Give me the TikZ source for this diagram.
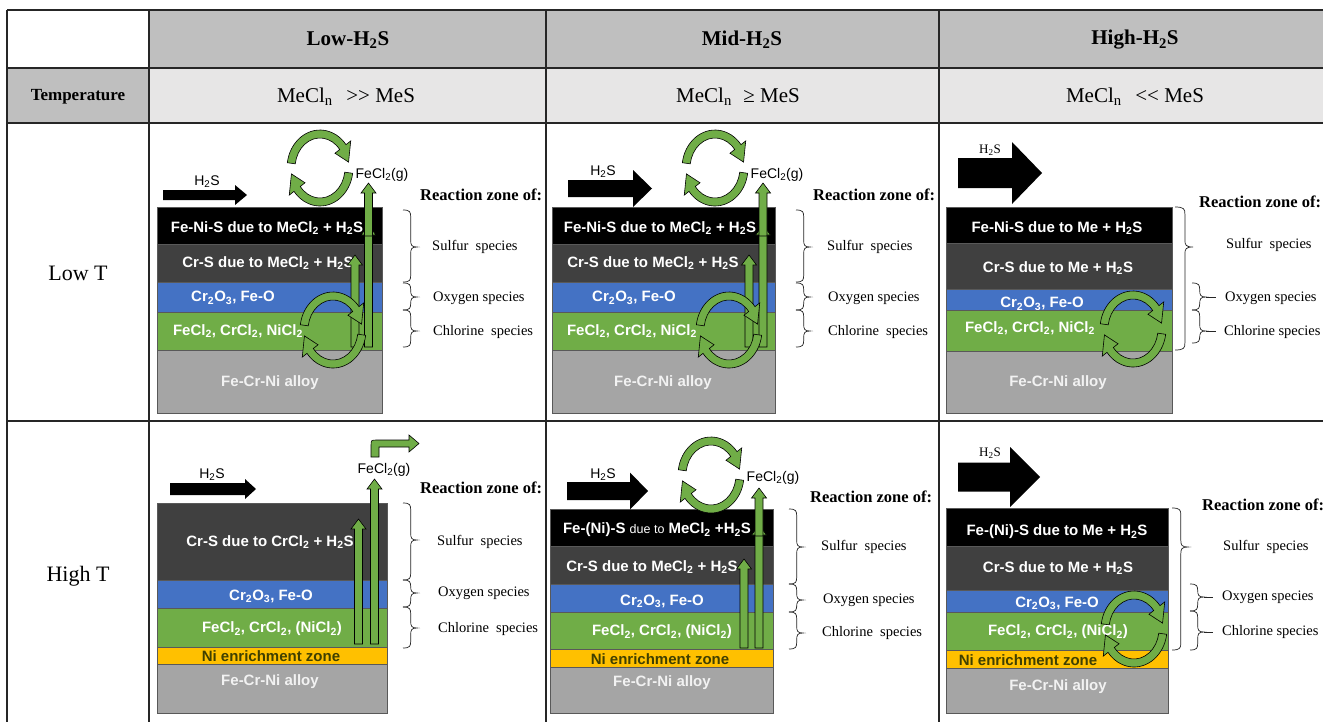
\documentclass[tikz,border=0pt]{standalone}
\usepackage{fontspec}
\setmainfont{Liberation Serif}
\newfontfamily\arial{Liberation Sans}
\usetikzlibrary{calc}
\definecolor{hdr}{HTML}{BFBFBF}
\definecolor{rowb}{HTML}{E7E6E6}
\definecolor{lblack}{HTML}{000000}
\definecolor{ldgray}{HTML}{404040}
\definecolor{lblue}{HTML}{4472C4}
\definecolor{lgreen}{HTML}{70AD47}
\definecolor{lyellow}{HTML}{FFC000}
\definecolor{lalloy}{HTML}{A5A5A5}
\definecolor{ledge}{HTML}{595959}
\definecolor{alloytxt}{HTML}{F2F2F2}
\definecolor{nitxt}{HTML}{404000}
\definecolor{arrgreen}{HTML}{70AD47}
\definecolor{gridc}{HTML}{262626}
\newcommand\sub[1]{\textsubscript{#1}}
\newcommand\lay[5]{\filldraw[layer=#1] (#2,#3) rectangle (#4,#5);}
\newcommand\varr[3]{\filldraw[garr] ({#1-4},#2) -- ({#1-4},{#3+10}) -- ({#1-7.5},{#3+10}) -- (#1,#3) -- ({#1+7.5},{#3+10}) -- ({#1+4},{#3+10}) -- ({#1+4},#2) -- cycle;}
\newcommand\carc[5]{\begin{scope}[shift={(#1,#2)}]
\filldraw[garr] (#3:33 and 38) arc[start angle=#3, end angle=#4, x radius=33, y radius=38] -- (#4:39 and 44) -- (#5:29 and 34) -- (#4:19 and 24) -- (#4:25 and 30) arc[start angle=#4, end angle=#3, x radius=25, y radius=30] -- cycle;
\end{scope}}
\newcommand\cycarr[2]{\carc{#1}{#2}{188}{322}{350}\carc{#1}{#2}{8}{142}{170}}
\newcommand\harr[6]{\fill[black] (#1,{#3-#4}) -- ({#2-#6},{#3-#4}) -- ({#2-#6},{#3-#5}) -- (#2,#3) -- ({#2-#6},{#3+#5}) -- ({#2-#6},{#3+#4}) -- (#1,{#3+#4}) -- cycle;}
% brace: x, ytop, ytip, ybot, amplitude
\newcommand\brc[5]{\draw[brcs] (#1,#2) .. controls ({#1+#5*0.5},#2) and ({#1+#5*0.55},{#2+2}) .. ({#1+#5*0.55},{#2+7}) -- ({#1+#5*0.55},{#3-7}) .. controls ({#1+#5*0.55},{#3-2}) and ({#1+#5*0.6},#3) .. ({#1+#5},#3) .. controls ({#1+#5*0.6},#3) and ({#1+#5*0.55},{#3+2}) .. ({#1+#5*0.55},{#3+7}) -- ({#1+#5*0.55},{#4-7}) .. controls ({#1+#5*0.55},{#4-2}) and ({#1+#5*0.5},#4) .. (#1,#4);}
\tikzset{
 layer/.style={fill=#1, draw=ledge, line width=0.8pt},
 ltext/.style={font={\arial\bfseries\fontsize{15}{17}\selectfont}, text=white, inner sep=0pt},
 atext/.style={ltext, text=alloytxt},
 ntext/.style={ltext, text=nitxt},
 garr/.style={fill=arrgreen, draw=black, line width=0.6pt},
 brcs/.style={draw=black!85, line width=0.7pt},
 gridl/.style={draw=gridc, line width=1.6pt},
 hfont/.style={font={\bfseries\fontsize{21}{24}\selectfont}, inner sep=0pt},
 rfont/.style={font={\fontsize{21}{24}\selectfont}, inner sep=0pt},
 sidef/.style={font={\fontsize{22}{26}\selectfont}, inner sep=0pt},
 rzone/.style={font={\bfseries\fontsize{16.5}{19}\selectfont}, inner sep=0pt, anchor=west},
 spec/.style={font={\fontsize{14.5}{17}\selectfont}, inner sep=0pt, anchor=west},
 gas/.style={font={\arial\fontsize{14}{16}\selectfont}, inner sep=0pt},
 hsa/.style={font={\arial\fontsize{14}{16}\selectfont}, inner sep=0pt},
 hst/.style={font={\fontsize{13}{15}\selectfont}, inner sep=0pt},
}
\begin{document}
\begin{tikzpicture}[x=1pt,y=-1pt]
\useasboundingbox (0,0) rectangle (1323,721);
\clip (0,0) rectangle (1323,721);
\fill[white] (0,0) rectangle (1323,721);
% ---------- table ----------
\fill[hdr] (149,10) rectangle (1345,68);
\fill[hdr] (7,68) rectangle (149,123);
\fill[rowb] (149,68) rectangle (1345,123);
\foreach \yy in {10,68,123,421} {\draw[gridl] (7,\yy) -- (1345,\yy);}
\foreach \xx in {7,149,546,939} {\draw[gridl] (\xx,10) -- (\xx,735);}
\node[hfont] (h1) at (348,40) {Low-H\sub{2}S};
\node[hfont] (h2) at (742,40) {Mid-H\sub{2}S};
\node[hfont] (h3) at (1135,40) {High-H\sub{2}S};
\node[font={\bfseries\fontsize{17}{20}\selectfont}, inner sep=0pt] (temp) at (78,97) {Temperature};
\node[rfont] (r1) at (346,97) {MeCl\sub{n}\hspace{0.4em} {>}{>} MeS};
\node[rfont] (r2) at (738,97) {MeCl\sub{n}\hspace{0.3em} ≥ MeS};
\node[rfont] (r3) at (1135,97) {MeCl\sub{n}\hspace{0.4em} {<}{<} MeS};
\node[sidef] (lowT) at (78,273) {Low T};
\node[sidef] (highT) at (78,576) {High T};
% ---------- panel 1: Low-H2S, Low T ----------
\lay{lblack}{157}{207}{382}{244}
\node[ltext] (p1a) at (267,228) {Fe-Ni-S due to MeCl\sub{2} + H\sub{2}S};
\lay{ldgray}{157}{244}{382}{282}
\node[ltext] (p1b) at (268,263) {Cr-S due to MeCl\sub{2} + H\sub{2}S};
\lay{lblue}{157}{282}{382}{312}
\node[ltext] (p1c) at (233,298) {Cr\sub{2}O\sub{3}, Fe-O};
\lay{lgreen}{157}{312}{382}{350}
\node[ltext] (p1d) at (238,331) {FeCl\sub{2}, CrCl\sub{2}, NiCl\sub{2}};
\lay{lalloy}{157}{350}{382}{413}
\node[atext] (p1e) at (270,383) {Fe-Cr-Ni alloy};
\harr{163}{247}{195}{5}{10}{12}
\node[hsa] (p1h) at (207,182) {H\sub{2}S};
\node[gas] (p1g) at (382,175) {FeCl\sub{2}(g)};
\varr{355}{347}{255}
\varr{368.5}{347}{225}
\varr{368.5}{236}{183}
\cycarr{320}{168}
\cycarr{333}{330}
\node[rzone] (p1r) at (420,195) {Reaction zone of:};
\brc{403}{210}{247}{282}{14}
\brc{403}{283}{297}{310}{14}
\brc{403}{310}{331}{347}{14}
\node[spec] (p1s) at (432,247) {Sulfur\hspace{0.5em}species};
\node[spec] (p1o) at (433,298) {Oxygen species};
\node[spec] (p1c2) at (433,332) {Chlorine\hspace{0.5em}species};
% ---------- panel 2: Mid-H2S, Low T ----------
\lay{lblack}{552}{207}{775}{244}
\node[ltext] (p2a) at (660,228) {Fe-Ni-S due to MeCl\sub{2} + H\sub{2}S};
\lay{ldgray}{552}{244}{775}{282}
\node[ltext] (p2b) at (653,263) {Cr-S due to MeCl\sub{2} + H\sub{2}S};
\lay{lblue}{552}{282}{775}{312}
\node[ltext] (p2c) at (634,298) {Cr\sub{2}O\sub{3}, Fe-O};
\lay{lgreen}{552}{312}{775}{350}
\node[ltext] (p2d) at (632,331) {FeCl\sub{2}, CrCl\sub{2}, NiCl\sub{2}};
\lay{lalloy}{552}{350}{775}{413}
\node[atext] (p2e) at (663,383) {Fe-Cr-Ni alloy};
\harr{568}{652}{188.5}{8.5}{18.5}{19}
\node[hsa] (p2h) at (603,172) {H\sub{2}S};
\node[gas] (p2g) at (777,175) {FeCl\sub{2}(g)};
\varr{749}{347}{255}
\varr{763}{347}{225}
\varr{763}{236}{183}
\cycarr{715}{168}
\cycarr{729}{330}
\node[rzone] (p2r) at (813,195) {Reaction zone of:};
\brc{796}{210}{247}{282}{14}
\brc{796}{283}{297}{310}{14}
\brc{796}{310}{331}{347}{14}
\node[spec] (p2s) at (827,247) {Sulfur\hspace{0.5em}species};
\node[spec] (p2o) at (828,298) {Oxygen species};
\node[spec] (p2c2) at (828,332) {Chlorine\hspace{0.5em}species};
% ---------- panel 3: High-H2S, Low T ----------
\lay{lblack}{946}{207}{1172}{243}
\node[ltext] (p3a) at (1057,228) {Fe-Ni-S due to Me + H\sub{2}S};
\lay{ldgray}{946}{243}{1172}{289}
\node[ltext] (p3b) at (1058,268) {Cr-S due to Me + H\sub{2}S};
\lay{lblue}{946}{289}{1172}{310}
\node[ltext] (p3c) at (1042,304) {Cr\sub{2}O\sub{3}, Fe-O};
\lay{lgreen}{946}{310}{1172}{351}
\node[ltext] (p3d) at (1030,328) {FeCl\sub{2}, CrCl\sub{2}, NiCl\sub{2}};
\lay{lalloy}{946}{351}{1172}{413}
\node[atext] (p3e) at (1058,383) {Fe-Cr-Ni alloy};
\harr{958}{1042}{173}{15}{31}{30}
\node[hst] (p3h) at (990,150) {H\sub{2}S};
\cycarr{1133}{329}
\node[rzone] (p3r) at (1199,202) {Reaction zone of:};
\brc{1175}{207}{247}{350}{18}
\brc{1192}{283}{297}{310}{14}
\brc{1192}{310}{331}{343}{14}
\draw[brcs] (1206,297) -- (1216,297);
\draw[brcs] (1206,331) -- (1216,331);
\node[spec] (p3s) at (1226,245) {Sulfur\hspace{0.5em}species};
\node[spec] (p3o) at (1225,298) {Oxygen species};
\node[spec] (p3c2) at (1224,332) {Chlorine species};
% ---------- panel 4: Low-H2S, High T ----------
\lay{ldgray}{157}{503}{387}{580}
\node[ltext] (p4b) at (270,542) {Cr-S due to CrCl\sub{2} + H\sub{2}S};
\lay{lblue}{157}{580}{387}{608}
\node[ltext] (p4c) at (271,596) {Cr\sub{2}O\sub{3}, Fe-O};
\lay{lgreen}{157}{608}{387}{647}
\node[ltext] (p4d) at (272,629) {FeCl\sub{2}, CrCl\sub{2}, (NiCl\sub{2})};
\lay{lyellow}{157}{647}{387}{664}
\node[ntext] (p4n) at (271,656) {Ni enrichment zone};
\lay{lalloy}{157}{664}{387}{713}
\node[atext] (p4e) at (270,682) {Fe-Cr-Ni alloy};
\harr{170}{256}{489}{6}{10}{11}
\node[hsa] (p4h) at (212,475) {H\sub{2}S};
\node[gas] (p4g) at (384,470) {FeCl\sub{2}(g)};
\varr{358.5}{644}{519}
\varr{374.5}{644}{479}
\filldraw[garr] (371,457) -- (371,446) .. controls (371,440) .. (377,440) -- (409,440) -- (409,435) -- (419,443.5) -- (409,452) -- (409,447) -- (379,447) -- (379,457) -- cycle;
\node[rzone] (p4r) at (420,488) {Reaction zone of:};
\brc{403}{503}{540}{580}{14}
\brc{403}{580}{593}{607}{14}
\brc{403}{607}{628}{648}{14}
\node[spec] (p4s) at (437,542) {Sulfur\hspace{0.5em}species};
\node[spec] (p4o) at (438,593) {Oxygen species};
\node[spec] (p4c2) at (438,629) {Chlorine\hspace{0.5em}species};
% ---------- panel 5: Mid-H2S, High T ----------
\lay{lblack}{550}{509}{773}{546}
\node[ltext] (p5a) at (657,530) {Fe-(Ni)-S {\mdseries\fontsize{12.5}{14}\selectfont due to} MeCl\sub{2} +H\sub{2}S};
\lay{ldgray}{550}{546}{773}{584}
\node[ltext] (p5b) at (652,567) {Cr-S due to MeCl\sub{2} + H\sub{2}S};
\lay{lblue}{550}{584}{773}{612}
\node[ltext] (p5c) at (662,601) {Cr\sub{2}O\sub{3}, Fe-O};
\lay{lgreen}{550}{612}{773}{649}
\node[ltext] (p5d) at (662,632) {FeCl\sub{2}, CrCl\sub{2}, (NiCl\sub{2})};
\lay{lyellow}{550}{649}{773}{667}
\node[ntext] (p5n) at (660,659) {Ni enrichment zone};
\lay{lalloy}{550}{667}{773}{713}
\node[atext] (p5e) at (662,683) {Fe-Cr-Ni alloy};
\harr{567}{648}{491}{9}{18.5}{18}
\node[hsa] (p5h) at (603,475) {H\sub{2}S};
\node[gas] (p5g) at (773,478) {FeCl\sub{2}(g)};
\varr{744}{648}{559}
\varr{759}{648}{525}
\varr{759}{536}{488}
\cycarr{711}{475}
\node[rzone] (p5r) at (810,497) {Reaction zone of:};
\brc{789}{509}{547}{584}{14}
\brc{789}{584}{600}{612}{14}
\brc{789}{612}{633}{649}{14}
\node[spec] (p5s) at (821,547) {Sulfur\hspace{0.5em}species};
\node[spec] (p5o) at (823,600) {Oxygen species};
\node[spec] (p5c2) at (822,633) {Chlorine\hspace{0.5em}species};
% ---------- panel 6: High-H2S, High T ----------
\lay{lblack}{946}{508}{1168}{546}
\node[ltext] (p6a) at (1057,532) {Fe-(Ni)-S due to Me + H\sub{2}S};
\lay{ldgray}{946}{546}{1168}{590}
\node[ltext] (p6b) at (1058,568) {Cr-S due to Me + H\sub{2}S};
\lay{lblue}{946}{590}{1168}{612}
\node[ltext] (p6c) at (1057,603) {Cr\sub{2}O\sub{3}, Fe-O};
\lay{lgreen}{946}{612}{1168}{650}
\node[ltext] (p6d) at (1058,632) {FeCl\sub{2}, CrCl\sub{2}, (NiCl\sub{2})};
\lay{lyellow}{946}{650}{1168}{668}
\node[ntext] (p6n) at (1028,660) {Ni enrichment zone};
\lay{lalloy}{946}{668}{1168}{713}
\node[atext] (p6e) at (1058,687) {Fe-Cr-Ni alloy};
\harr{958}{1040}{477}{14.5}{30}{30}
\node[hst] (p6h) at (990,453) {H\sub{2}S};
\cycarr{1134}{629}
\node[rzone] (p6r) at (1202,505) {Reaction zone of:};
\brc{1172}{508}{547}{650}{16}
\brc{1190}{584}{597}{611}{14}
\brc{1190}{611}{632}{650}{14}
\draw[brcs] (1204,597) -- (1213,597);
\draw[brcs] (1204,632) -- (1213,632);
\node[spec] (p6s) at (1223,547) {Sulfur\hspace{0.5em}species};
\node[spec] (p6o) at (1222,597) {Oxygen species};
\node[spec] (p6c2) at (1222,632) {Chlorine species};
\end{tikzpicture}
\end{document}
